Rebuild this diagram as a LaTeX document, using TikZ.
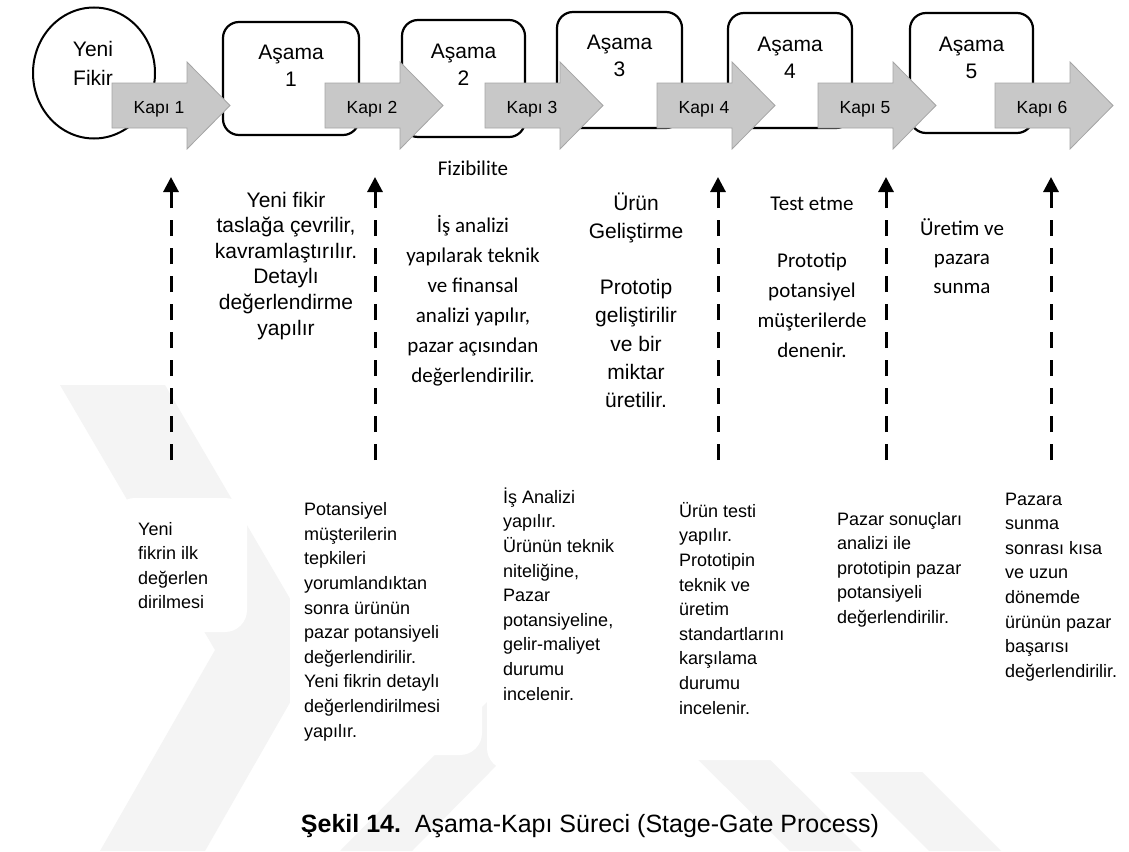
\documentclass[tikz,border=0pt]{standalone}
\usepackage{fontspec}
\setmainfont{Liberation Sans}
\newfontfamily\calibrifont{Carlito}
\usetikzlibrary{arrows.meta,shapes.geometric}

\definecolor{gatefill}{RGB}{200,200,200}
\definecolor{gateedge}{RGB}{165,165,165}
\definecolor{markgray}{RGB}{244,244,244}

% multi-line nodes below are placed by the baseline of their last line
\tikzset{
  stagebox/.style={draw=black, line width=2.2pt, rounded corners=16pt, fill=white, inner sep=0pt},
  gateshape/.style={fill=gatefill, draw=gateedge, line width=0.8pt},
  gatetext/.style={font=\fontsize{17.5}{20}\selectfont, inner sep=0pt, anchor=base},
  stagetext/.style={font=\fontsize{21}{27}\selectfont, align=center, inner sep=0pt, anchor=base},
  arialmid/.style={font=\fontsize{21}{25.6}\selectfont, align=center, inner sep=0pt, anchor=base},
  calmid/.style={font=\calibrifont\fontsize{21}{30}\selectfont, align=center, inner sep=0pt, anchor=base},
  notetext/.style={font=\fontsize{18}{24.6}\selectfont, align=left, inner sep=0pt, anchor=base west},
  review/.style={line width=3pt, dash pattern=on 16pt off 12pt, -{Triangle[length=15pt,width=15pt]}},
  wmark/.style={fill=markgray, draw=none},
  notebg/.style={fill=white, draw=none, rounded corners=22pt},
}

\begin{document}
\begin{tikzpicture}[x=1pt,y=-1pt]
\useasboundingbox (0,0) rectangle (1129,851);
\fill[white] (0,0) rectangle (1129,851);

% faint background emblem
\fill[wmark] (60,385) -- (165,385) -- (320,650) -- (205,851) -- (100,851) -- (215,650) -- cycle;
\fill[wmark] (340,851) -- (412,851) -- (640,620) -- (568,620) -- cycle;
\fill[wmark] (660,722) -- (732,722) -- (862,851) -- (790,851) -- cycle;
\fill[wmark] (850,772) -- (922,772) -- (1001,851) -- (929,851) -- cycle;

% white panels behind the gate notes
\fill[notebg] (113,498) rectangle (247,632);
\fill[notebg] (290,485) rectangle (482,755);
\fill[notebg] (487,470) rectangle (655,770);
\fill[notebg] (660,488) rectangle (835,760);
\fill[notebg] (828,476) rectangle (995,650);
\fill[notebg] (997,478) rectangle (1129,700);

% new idea
\node[draw, ellipse, line width=2pt, minimum width=122pt, minimum height=131pt, inner sep=0pt] (idea) at (94,73) {};
\node[stagetext, font=\fontsize{21}{28.5}\selectfont] (ideatext) at (93,85) {Yeni\\Fikir};

% stages
\node[stagebox, minimum width=136pt, minimum height=113pt] (s1) at (291,78.5) {};
\node[stagebox, minimum width=123pt, minimum height=117pt] (s2) at (463.5,78.5) {};
\node[stagebox, minimum width=125pt, minimum height=116pt] (s3) at (619.5,70) {};
\node[stagebox, minimum width=124pt, minimum height=115pt] (s4) at (790,70.5) {};
\node[stagebox, minimum width=123pt, minimum height=120pt] (s5) at (971.5,73) {};
\node[stagetext] (s1text) at (291,86.5) {Aşama\\1};
\node[stagetext] (s2text) at (463.5,85.5) {Aşama\\2};
\node[stagetext] (s3text) at (619.5,77) {Aşama\\3};
\node[stagetext] (s4text) at (790,78.5) {Aşama\\4};
\node[stagetext] (s5text) at (971.5,78.5) {Aşama\\5};

% gates
\foreach \i/\x in {1/112,2/325,3/485,4/657,5/818,6/995} {
  \draw[gateshape] (\x,83) -- (\x+75,83) -- (\x+75,62) -- (\x+118,105.5)
    -- (\x+75,149) -- (\x+75,128) -- (\x,128) -- cycle;
  \node[gatetext] (gate\i) at (\x+47,113) {Kapı \i};
}

% stage descriptions
\node[arialmid] (d1) at (286,335) {Yeni fikir\\taslağa çevrilir,\\kavramlaştırılır.\\Detaylı\\değerlendirme\\yapılır};
\node[calmid] (d2a) at (473,175) {Fizibilite};
\node[calmid] (d2b) at (473,382) {İş analizi\\yapılarak teknik\\ve finansal\\analizi yapılır,\\pazar açısından\\değerlendirilir.};
\node[arialmid, font=\fontsize{21}{28.2}\selectfont] (d3) at (636,407.4) {Ürün\\Geliştirme\\[28.2pt]Prototip\\geliştirilir\\ve bir\\miktar\\üretilir.};
\node[calmid] (d4a) at (812,210) {Test etme};
\node[calmid, font=\calibrifont\fontsize{21}{29.7}\selectfont] (d4b) at (812,357) {Prototip\\potansiyel\\müşterilerde\\denenir.};
\node[calmid, font=\calibrifont\fontsize{21}{29}\selectfont] (d5) at (962,293) {Üretim ve\\pazara\\sunma};

% gate reviews
\foreach \i/\x in {1/171,2/375,3/718,4/886,5/1051} {
  \coordinate (rb\i) at (\x,460);
  \coordinate (rt\i) at (\x,177);
  \draw[review] (rb\i) -- (rt\i);
}

% gate notes
\node[notetext] (g1) at (138,608.8) {Yeni\\fikrin ilk\\değerlen\\dirilmesi};
\node[notetext] (g2) at (304,737) {Potansiyel\\müşterilerin\\tepkileri\\yorumlandıktan\\sonra ürünün\\pazar potansiyeli\\değerlendirilir.\\Yeni fikrin detaylı\\değerlendirilmesi\\yapılır.};
\node[notetext] (g3) at (503,700) {İş Analizi\\yapılır.\\Ürünün teknik\\niteliğine,\\Pazar\\potansiyeline,\\gelir-maliyet\\durumu\\incelenir.};
\node[notetext] (g4) at (679,714) {Ürün testi\\yapılır.\\Prototipin\\teknik ve\\üretim\\standartlarını\\karşılama\\durumu\\incelenir.};
\node[notetext] (g5) at (837,623.4) {Pazar sonuçları\\analizi ile\\prototipin pazar\\potansiyeli\\değerlendirilir.};
\node[notetext] (g6) at (1005,677.2) {Pazara\\sunma\\sonrası kısa\\ve uzun\\dönemde\\ürünün pazar\\başarısı\\değerlendirilir.};

% caption
\node[font=\fontsize{25}{30}\selectfont, anchor=base, inner sep=0pt] (caption) at (590,832) {\textbf{Şekil 14.}\ \ Aşama-Kapı Süreci (Stage-Gate Process)};
\end{tikzpicture}
\end{document}
